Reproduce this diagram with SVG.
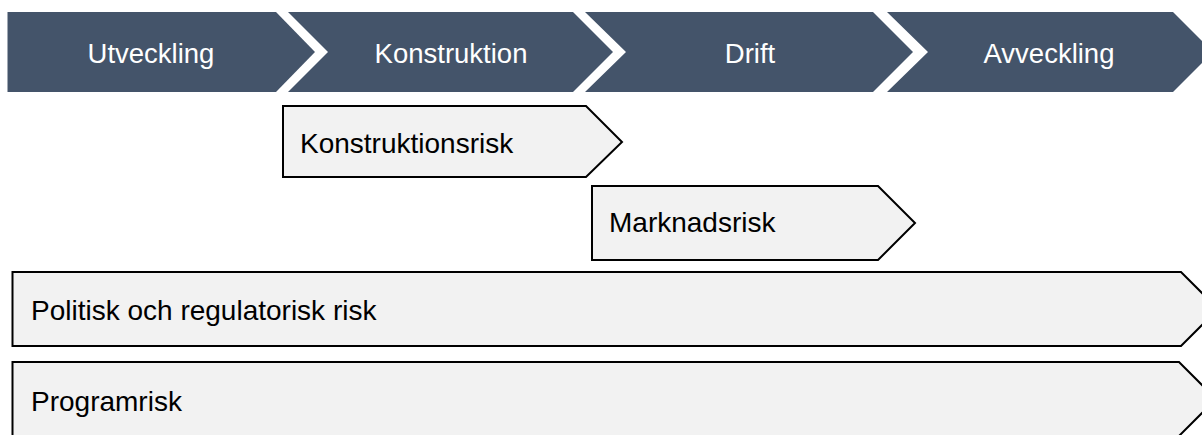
<svg xmlns="http://www.w3.org/2000/svg" width="1202" height="435" viewBox="0 0 1202 435">
<style>
.phase{fill:#44546A;}
.phase-t{font-family:"Liberation Sans",Arial,sans-serif;font-size:27.5px;fill:#FFFFFF;text-anchor:middle;}
.risk{fill:#F2F2F2;stroke:#000000;stroke-width:2;stroke-linejoin:miter;}
.risk-t{font-family:"Liberation Sans",Arial,sans-serif;font-size:28px;fill:#000000;}
</style>
<rect width="1202" height="435" fill="#FFFFFF"/>
<g id="utveckling">
<polygon class="phase" points="7.5,12 276,12 315,52 276,92 7.5,92"/>
<text class="phase-t" x="151" y="63">Utveckling</text>
</g>
<g id="konstruktion">
<polygon class="phase" points="288,12 573,12 613,52 573,92 288,92 328,52"/>
<text class="phase-t" x="451" y="63">Konstruktion</text>
</g>
<g id="drift">
<polygon class="phase" points="585,12 873,12 913,52 873,92 585,92 626,52"/>
<text class="phase-t" x="750" y="63">Drift</text>
</g>
<g id="avveckling">
<polygon class="phase" points="887,12 1173,12 1213,52 1173,92 887,92 928,52"/>
<text class="phase-t" x="1049" y="63">Avveckling</text>
</g>
<g id="konstruktionsrisk">
<polygon class="risk" points="283,106 586,106 622,142 586,177 283,177"/>
<text class="risk-t" x="300" y="153">Konstruktionsrisk</text>
</g>
<g id="marknadsrisk">
<polygon class="risk" points="592,186 878,186 915,223 878,260 592,260"/>
<text class="risk-t" x="609" y="232">Marknadsrisk</text>
</g>
<g id="politisk">
<polygon class="risk" points="12.5,272 1181,272 1218,309 1181,346 12.5,346"/>
<text class="risk-t" x="31" y="320">Politisk och regulatorisk risk</text>
</g>
<g id="programrisk">
<polygon class="risk" points="12.5,362 1179,362 1216,399 1179,436 12.5,436"/>
<text class="risk-t" x="31" y="411">Programrisk</text>
</g>
<g id="connectors"></g>
</svg>
